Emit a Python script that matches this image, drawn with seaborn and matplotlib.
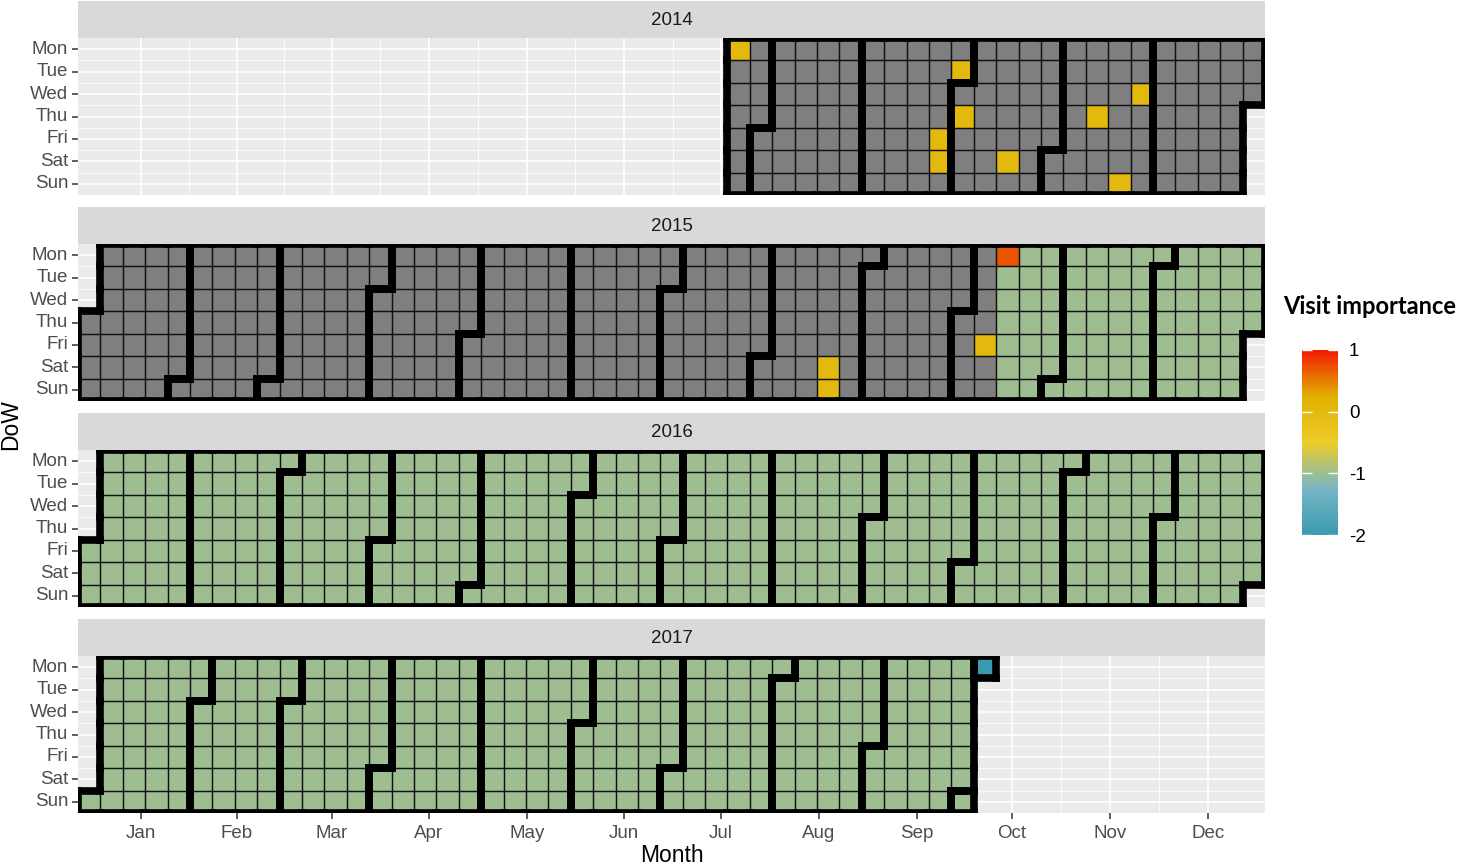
import numpy as np
import pandas as pd
import matplotlib
matplotlib.use("Agg")
import matplotlib.pyplot as plt
import seaborn as sns
from matplotlib.colors import LinearSegmentedColormap, Normalize
from matplotlib.cm import ScalarMappable
from matplotlib.collections import LineCollection

# ---------------- data ----------------
years = [2014, 2015, 2016, 2017]
day_labels = ["Mon", "Tue", "Wed", "Thu", "Fri", "Sat", "Sun"]
month_labels = ["Jan", "Feb", "Mar", "Apr", "May", "Jun",
                "Jul", "Aug", "Sep", "Oct", "Nov", "Dec"]
month_tick_weeks = [2.81, 7.10, 11.34, 15.67, 20.04, 24.38,
                    28.71, 33.08, 37.46, 41.70, 46.07, 50.45]
n_weeks = 53

record_start = "2014-07-21"      # first recorded day
record_end = "2017-10-02"        # last recorded day
rated_from = "2015-10-13"        # from here on every day carries the usual rating
rated_value = -1.0               # the usual (green) rating; earlier days are unrated (NA, grey)

event_dates = ["2014-07-21", "2014-09-26", "2014-09-27", "2014-09-30",
               "2014-10-02", "2014-10-18", "2014-11-13", "2014-11-23",
               "2014-11-26", "2015-08-22", "2015-08-23", "2015-10-09",
               "2015-10-12", "2017-10-02"]
event_values = [0, 0, 0, 0,
                0, 0, 0, 0,
                0, 0, 0, 0,
                0.7, -2]

palette_colors = ["#3B9AB2", "#78B7C5", "#EBCC2A", "#E1AF00", "#F21A00"]
value_min, value_max = -2, 1
colorbar_ticks = [-2, -1, 0, 1]

# ---------------- build daily table ----------------
days = pd.DataFrame({"date": pd.date_range(record_start, record_end)})
days["value"] = np.where(days["date"] >= pd.Timestamp(rated_from), rated_value, np.nan)
ev = pd.Series(event_values, index=pd.to_datetime(event_dates), dtype=float)
m = days["date"].isin(ev.index)
days.loc[m, "value"] = days.loc[m, "date"].map(ev).values
days["year"] = days["date"].dt.year
days["week"] = days["date"].dt.strftime("%W").astype(int)
days["dow"] = days["date"].dt.weekday
days["month"] = days["date"].dt.month

# ---------------- style ----------------
plt.rcParams["font.family"] = ["Liberation Sans", "DejaVu Sans"]
cmap = LinearSegmentedColormap.from_list("zissou", palette_colors, N=256).with_extremes(under="#7F7F7F")

W, H = 1458, 866
fig = plt.figure(figsize=(W / 100, H / 100), dpi=100)

px_left, px_right = 78, 1265
panel_tops = [38, 244, 450, 656]
panel_h = 157
strip_h = 37


def fx(px):
    return px / W


def fy(py):
    return 1 - py / H


minor_x = [(a + b) / 2 for a, b in zip(month_tick_weeks[:-1], month_tick_weeks[1:])]

for k, yr in enumerate(years):
    top = panel_tops[k]
    ax = fig.add_axes([fx(px_left), fy(top + panel_h), fx(px_right - px_left), panel_h / H])
    ax.set_facecolor("#EBEBEB")

    # background grid (ggplot style)
    for y in np.arange(7) + 0.5:
        ax.axhline(y, color="white", lw=1.2, zorder=0.5)
    for y in np.arange(1, 7):
        ax.axhline(y, color="white", lw=0.6, zorder=0.5)
    for x in month_tick_weeks:
        ax.axvline(x, color="white", lw=1.2, zorder=0.5)
    for x in minor_x:
        ax.axvline(x, color="white", lw=0.6, zorder=0.5)

    sub = days[days["year"] == yr].copy()
    sub["v"] = sub["value"].fillna(-99.0)
    mat = sub.pivot(index="dow", columns="week", values="v").reindex(
        index=range(7), columns=range(n_weeks))
    mask = mat.isna()
    sns.heatmap(mat, mask=mask, cmap=cmap, vmin=value_min, vmax=value_max,
                cbar=False, linewidths=0, ax=ax)

    # thin cell borders
    thin = []
    for c, r in zip(sub["week"], sub["dow"]):
        thin += [[(c, r), (c + 1, r)], [(c, r + 1), (c + 1, r + 1)],
                 [(c, r), (c, r + 1)], [(c + 1, r), (c + 1, r + 1)]]
    ax.add_collection(LineCollection(thin, colors="#111111", linewidths=0.9, zorder=2))

    # month outlines
    segs = []
    for mo, g in sub.groupby("month"):
        cells = set(zip(g["week"], g["dow"]))
        for (c, r) in cells:
            if (c - 1, r) not in cells:
                segs.append([(c, r), (c, r + 1)])
            if (c + 1, r) not in cells:
                segs.append([(c + 1, r), (c + 1, r + 1)])
            if (c, r - 1) not in cells:
                segs.append([(c, r), (c + 1, r)])
            if (c, r + 1) not in cells:
                segs.append([(c, r + 1), (c + 1, r + 1)])
    lc = LineCollection(segs, colors="black", linewidths=5.5, capstyle="projecting", zorder=3)
    ax.add_collection(lc)

    ax.set_xlim(0, n_weeks)
    ax.set_ylim(7, 0)
    ax.set_xlabel("")
    ax.set_ylabel("")
    ax.set_yticks(np.arange(7) + 0.5, day_labels, rotation=0)
    ax.set_xticks(month_tick_weeks, month_labels, rotation=0)
    ax.tick_params(axis="both", length=4, width=1.1, color="#333333",
                   labelsize=13.5, labelcolor="#4D4D4D")
    ax.tick_params(axis="y", pad=3)
    ax.tick_params(axis="x", pad=5)
    if k < len(years) - 1:
        ax.tick_params(axis="x", bottom=False, labelbottom=False)
    for s in ax.spines.values():
        s.set_visible(False)

    # strip
    sax = fig.add_axes([fx(px_left), fy(top), fx(px_right - px_left), strip_h / H])
    sax.set_facecolor("#D9D9D9")
    sax.set_xticks([])
    sax.set_yticks([])
    for s in sax.spines.values():
        s.set_visible(False)
    sax.text(0.5, 0.48, str(yr), ha="center", va="center", fontsize=13.5, color="#1A1A1A",
             transform=sax.transAxes)

# axis titles
fig.text(fx(11), fy(425), "DoW", rotation=90, ha="center", va="center", fontsize=16.5)
fig.text(fx(671.5), fy(856), "Month", ha="center", va="center", fontsize=16.5)

# legend
fig.text(fx(1283), fy(307), "Visit importance", ha="left", va="center",
         fontsize=17, fontweight="bold", family=["Lato", "DejaVu Sans"])
cax = fig.add_axes([fx(1302), fy(535), fx(36), 185 / H])
sm = ScalarMappable(norm=Normalize(value_min, value_max), cmap=cmap)
cb = fig.colorbar(sm, cax=cax, ticks=colorbar_ticks)
cb.outline.set_visible(False)
cb.ax.set_yticklabels([str(t) for t in colorbar_ticks])
cax.tick_params(axis="y", direction="in", length=7, width=1, color="white",
                left=True, right=True, labelleft=False, labelright=True,
                labelsize=13.5, pad=8)

fig.savefig("out.png", dpi=100)
